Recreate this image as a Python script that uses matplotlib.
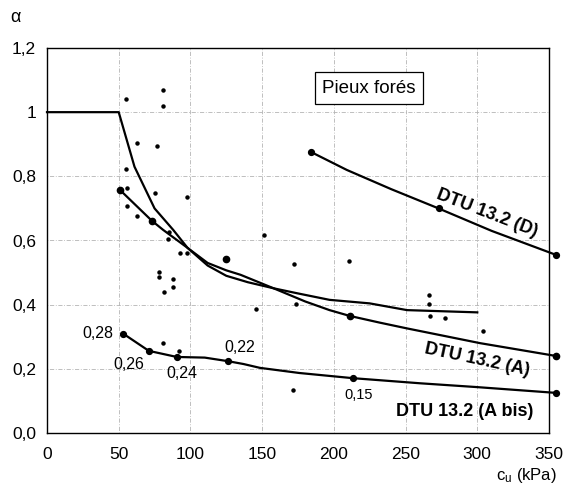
import matplotlib
matplotlib.use("Agg")
import matplotlib.pyplot as plt

plt.rcParams['font.family'] = ['Liberation Sans', 'DejaVu Sans']

# Curve starting at alpha = 1 (Pieux forés trend)
c1_x = [0, 50, 61, 75, 88, 98, 112, 125, 140, 158, 175, 197, 225, 251, 300]
c1_y = [1.0, 1.0, 0.83, 0.70, 0.633, 0.577, 0.522, 0.49, 0.47, 0.451, 0.435, 0.415, 0.404, 0.383, 0.376]

# DTU 13.2 (A)
a_x = [51, 73, 81, 98, 112, 125, 135, 158, 180, 197, 211, 232, 251, 302, 355]
a_y = [0.757, 0.662, 0.633, 0.577, 0.53, 0.507, 0.493, 0.451, 0.41, 0.383, 0.365, 0.344, 0.326, 0.28, 0.24]
a_mx = [51, 73, 125, 211, 355]
a_my = [0.757, 0.662, 0.541, 0.365, 0.24]

# DTU 13.2 (D)
d_x = [184, 209, 240, 273, 310, 355]
d_y = [0.876, 0.82, 0.76, 0.70, 0.63, 0.555]
d_mx = [184, 273, 355]
d_my = [0.876, 0.70, 0.555]

# DTU 13.2 (A bis)
ab_x = [53, 71, 90.5, 110, 126, 137, 148.5, 176, 213, 260, 300, 355]
ab_y = [0.31, 0.256, 0.237, 0.235, 0.224, 0.215, 0.203, 0.187, 0.171, 0.155, 0.143, 0.125]
ab_mx = [53, 71, 90.5, 126, 213, 355]
ab_my = [0.31, 0.256, 0.237, 0.224, 0.171, 0.125]

# Measured points
pts_x = [55, 81, 81, 62.5, 76.5, 55, 56, 75.3, 97.4, 55.6, 63, 85.3, 84.6, 93, 97.8,
         77.9, 77.9, 88.1, 88.1, 81.4, 81.1, 92.3, 151.5, 172, 210.6, 145.7, 173.4,
         171.8, 266.6, 266.6, 267.3, 277.5, 304]
pts_y = [1.04, 1.07, 1.02, 0.903, 0.896, 0.824, 0.765, 0.747, 0.737, 0.707, 0.676, 0.628,
         0.606, 0.562, 0.562, 0.503, 0.487, 0.479, 0.455, 0.441, 0.280, 0.257, 0.617,
         0.528, 0.536, 0.385, 0.402, 0.134, 0.431, 0.402, 0.366, 0.358, 0.317]

xticks = [0, 50, 100, 150, 200, 250, 300, 350]
yticks = [0.0, 0.2, 0.4, 0.6, 0.8, 1.0, 1.2]
ytick_labels = ['0,0', '0,2', '0,4', '0,6', '0,8', '1', '1,2']

fig = plt.figure(figsize=(5.69, 4.90), dpi=100)
ax = fig.add_axes([47/569, 57/490, 502/569, 385/490])
ax.set_xlim(0, 350)
ax.set_ylim(0, 1.2)

grid_kw = dict(color='#b4b4b4', lw=0.6, ls=(0, (1, 2, 5, 2)), zorder=0)
for x in xticks[1:-1]:
    ax.axvline(x, **grid_kw)
for y in yticks[1:-1]:
    ax.axhline(y, **grid_kw)

lw = 1.6
ax.plot(c1_x, c1_y, color='black', lw=lw, clip_on=False)
ax.plot(a_x, a_y, color='black', lw=lw, clip_on=False)
ax.plot(a_mx, a_my, 'o', color='black', ms=4.5, clip_on=False)
ax.plot(d_x, d_y, color='black', lw=lw, clip_on=False)
ax.plot(d_mx, d_my, 'o', color='black', ms=4.2, clip_on=False)
ax.plot(ab_x, ab_y, color='black', lw=lw, clip_on=False)
ax.plot(ab_mx, ab_my, 'o', color='black', ms=4.2, clip_on=False)
ax.plot(pts_x, pts_y, 'o', color='black', ms=2.2, clip_on=False)

ax.set_xticks(xticks)
ax.set_xticklabels([str(v) for v in xticks])
ax.set_yticks(yticks)
ax.set_yticklabels(ytick_labels)
ax.tick_params(length=0, labelsize=12.5, pad=8)
ax.tick_params(axis='x', pad=10)
for s in ax.spines.values():
    s.set_linewidth(1.0)

fs = 11.5
ax.text(35.8, 0.311, '0,28', ha='center', va='center', fontsize=fs)
ax.text(56.7, 0.214, '0,26', ha='center', va='center', fontsize=fs)
ax.text(94, 0.186, '0,24', ha='center', va='center', fontsize=fs)
ax.text(134.1, 0.267, '0,22', ha='center', va='center', fontsize=fs)
ax.text(217.6, 0.118, '0,15', ha='center', va='center', fontsize=10.5)

lab = dict(ha='center', va='center', fontsize=13, fontweight='bold')
ax.text(291.5, 0.066, 'DTU 13.2 (A bis)', **lab)
ax.text(299.7, 0.228, 'DTU 13.2 (A)', rotation=-12, rotation_mode='anchor', **lab)
ax.text(306.6, 0.685, 'DTU 13.2 (D)', rotation=-21, rotation_mode='anchor', **lab)

ax.text(224.5, 1.075, 'Pieux forés', ha='center', va='center', fontsize=13.5,
        bbox=dict(boxstyle='square,pad=0.4', fc='white', ec='black', lw=0.9))

fig.text(15/569, 1 - 18/490, 'α', ha='center', va='center', fontsize=13)
fig.text(557/569, 15/490, r'$\mathregular{c_u}$ (kPa)', ha='right', va='center', fontsize=12)

fig.savefig('out.png', dpi=100)
